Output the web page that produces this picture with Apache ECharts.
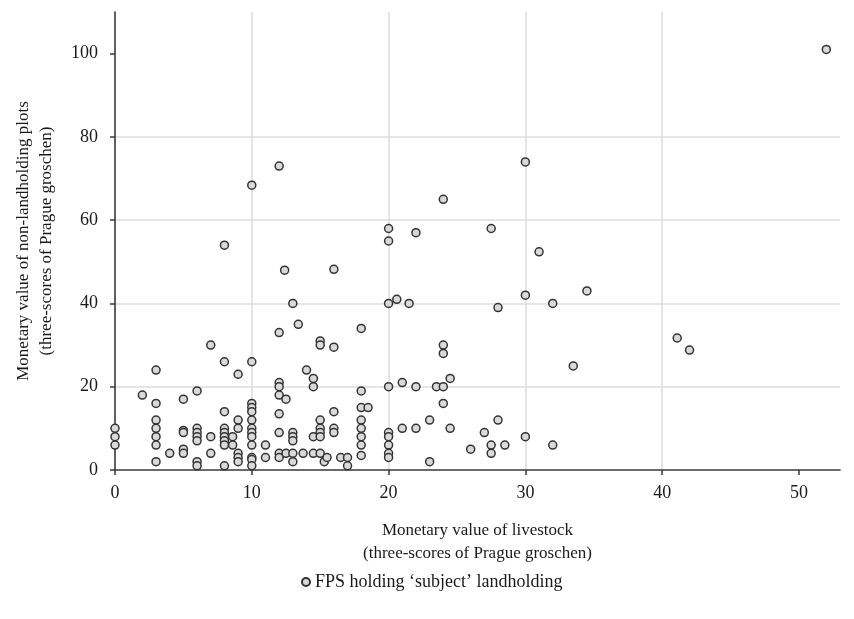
<!DOCTYPE html>
<html>
<head>
<meta charset="utf-8">
<script src="https://cdn.jsdelivr.net/npm/echarts@6/dist/echarts.min.js"></script>
<style>
html,body{margin:0;padding:0;background:#fff;}
#chart{width:854px;height:619px;}
</style>
</head>
<body>
<div id="chart"></div>
<script>
// Monetary value of livestock (x) and of non-landholding plots (y)
var livestock = [
  0,0,0,
  2,
  3,3,3,3,3,3,3,
  4,
  5,5,5,5,5,
  6,6,6,6,6,6,6,
  7,7,7,
  8,8,8,8,8,8,8,8,8,
  8.6,8.6,
  9,9,9,9,9,9,
  10,10,10,10,10,10,10,10,10,10,10,10,10,
  11,11,
  12,12,12,12,12,12,12,12,12,
  12.4,12.5,12.5,
  13,13,13,13,13,13,
  13.4,13.75,14,
  14.5,14.5,14.5,14.5,
  15,15,15,15,15,15,15,
  15.3,15.5,
  16,16,16,16,16,
  16.5,17,17,
  18,18,18,18,18,18,18,18,
  18.5,
  20,20,20,20,20,20,20,20,20,
  20.6,21,21,21.5,
  22,22,22,
  23,23,23.5,
  24,24,24,24,24,
  24.5,24.5,
  26,27,27.5,27.5,27.5,
  28,28,28.5,
  30,30,30,
  31,32,32,33.5,34.5,
  41.1,42,
  52
];
var plots = [
  10,8,6,
  18,
  24,16,12,10,8,6,2,
  4,
  17,9.5,9,5,4,
  19,10,9,8,7,2,1,
  30,8,4,
  54,26,14,10,9,8,7,6,1,
  8,6,
  23,12,10,4,3,2,
  68.4,26,16,15,14,12,10,9,8,6,3,2.5,1,
  6,3,
  73,33,21,20,18,13.5,9,4,3,
  48,17,4,
  40,9,8,7,4,2,
  35,4,24,
  22,20,8,4,
  31,30,12,10,9,8,4,
  2,3,
  48.2,29.5,14,10,9,
  3,3,1,
  34,19,15,12,10,8,6,3.5,
  15,
  58,55,40,20,9,8,6,4,3,
  41,21,10,40,
  57,20,10,
  12,2,20,
  65,30,28,20,16,
  22,10,
  5,9,58,6,4,
  39,12,6,
  74,42,8,
  52.4,40,6,25,43,
  31.7,28.8,
  101
];
var xTicks = [0,10,20,30,40,50];
var yTicks = [0,20,40,60,80,100];
var seriesName = 'FPS holding \u2018subject\u2019 landholding';
var xTitle = 'Monetary value of livestock\n(three-scores of Prague groschen)';
var yTitle = 'Monetary value of non-landholding plots\n(three-scores of Prague groschen)';

var points = livestock.map(function(v, i){ return [v, plots[i]]; });

var FONT = 'Liberation Serif';
var chart = echarts.init(document.getElementById('chart'), null, {renderer:'canvas'});
chart.setOption({
  animation: false,
  backgroundColor: '#ffffff',
  grid: {left:115, right:14, top:12, bottom:149},
  legend: {
    data: [seriesName],
    left: 296, top: 568,
    icon: 'circle', itemWidth: 8, itemHeight: 8, itemGap: 4,
    textStyle: {fontFamily: FONT, fontSize: 18, color: '#1a1a1a'}
  },
  xAxis: {
    type: 'value', min: 0, max: 53, interval: 10,
    name: xTitle, nameLocation: 'middle', nameGap: 49,
    nameTextStyle: {fontFamily: FONT, fontSize: 17, color: '#1a1a1a', lineHeight: 23},
    axisLine: {show: true, onZero: false, lineStyle: {color: '#3a3a3a', width: 1.6}},
    axisTick: {show: true, length: 5, customValues: xTicks, lineStyle: {color: '#3a3a3a', width: 1.5}},
    axisLabel: {customValues: xTicks, fontFamily: FONT, fontSize: 18, color: '#1a1a1a', margin: 14},
    splitLine: {show: true, showMinLine: false, showMaxLine: false, lineStyle: {color: '#dcdcdc', width: 1.5}}
  },
  yAxis: {
    type: 'value', min: 0, max: 110, interval: 20,
    name: yTitle, nameLocation: 'middle', nameGap: 57,
    nameTextStyle: {fontFamily: FONT, fontSize: 17, color: '#1a1a1a', lineHeight: 23},
    axisLine: {show: true, onZero: false, lineStyle: {color: '#3a3a3a', width: 1.6}},
    axisTick: {show: true, length: 5, customValues: yTicks, lineStyle: {color: '#3a3a3a', width: 1.5}},
    axisLabel: {customValues: yTicks, fontFamily: FONT, fontSize: 18, color: '#1a1a1a', margin: 17},
    splitLine: {show: true, showMinLine: false, showMaxLine: false, lineStyle: {color: '#dcdcdc', width: 1.5}}
  },
  series: [{
    name: seriesName,
    type: 'scatter',
    data: points,
    symbol: 'circle',
    symbolSize: 8,
    itemStyle: {color: '#d9d9d9', borderColor: '#333333', borderWidth: 1.5, opacity: 1}
  }]
});
</script>
</body>
</html>
